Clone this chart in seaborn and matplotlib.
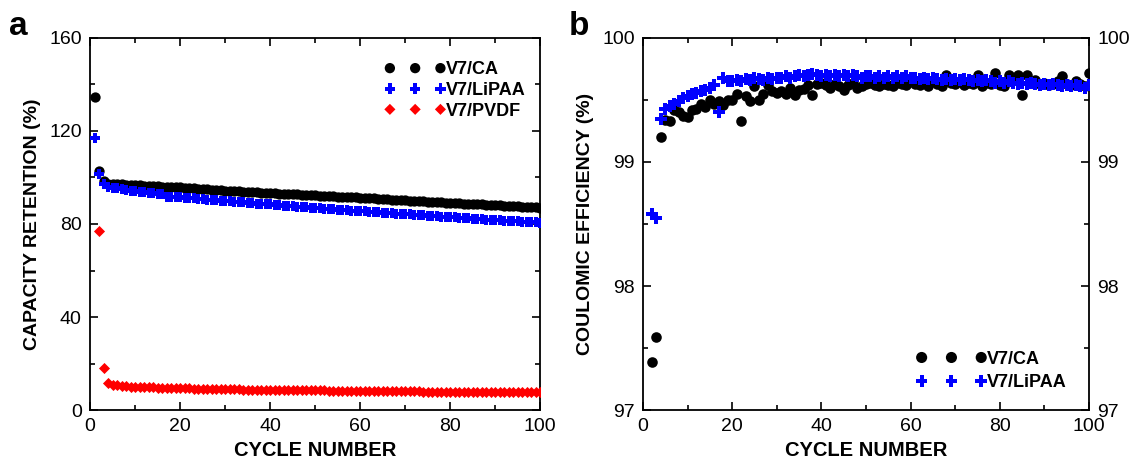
import matplotlib
matplotlib.use("Agg")
import matplotlib.pyplot as plt
from matplotlib.ticker import MultipleLocator
import seaborn as sns
import pandas as pd

# ---------------- data ----------------
cycles_all = list(range(1, 101))
cycles_from2 = list(range(2, 101))

retention_ca = [
    134.5, 103.0, 98.3, 97.4, 97.2, 97.1, 97.0, 96.9, 96.8, 96.7,
    96.6, 96.5, 96.4, 96.3, 96.2, 96.1, 96.0, 95.9, 95.8, 95.7,
    95.5, 95.4, 95.3, 95.2, 95.0, 94.9, 94.8, 94.6, 94.5, 94.4,
    94.2, 94.1, 94.0, 93.9, 93.8, 93.7, 93.6, 93.5, 93.4, 93.3,
    93.2, 93.1, 93.0, 92.9, 92.8, 92.7, 92.6, 92.5, 92.4, 92.3,
    92.2, 92.1, 92.0, 91.9, 91.8, 91.7, 91.6, 91.5, 91.4, 91.3,
    91.2, 91.1, 91.0, 90.8, 90.7, 90.6, 90.5, 90.4, 90.3, 90.2,
    90.0, 89.9, 89.8, 89.7, 89.6, 89.5, 89.4, 89.3, 89.2, 89.1,
    89.0, 88.9, 88.8, 88.7, 88.6, 88.5, 88.4, 88.3, 88.2, 88.1,
    88.0, 87.9, 87.8, 87.7, 87.6, 87.5, 87.4, 87.3, 87.2, 87.0,
]
retention_lipaa = [
    117.2, 101.5, 97.2, 96.0, 95.6, 95.3, 95.0, 94.7, 94.4, 94.1,
    93.9, 93.7, 93.5, 93.3, 93.1, 93.0, 91.8, 91.7, 91.6, 91.5,
    91.3, 91.2, 91.0, 90.8, 90.7, 90.5, 90.4, 90.2, 90.0, 89.9,
    89.7, 89.6, 89.4, 89.3, 89.1, 89.0, 88.8, 88.7, 88.5, 88.4,
    88.2, 88.1, 87.9, 87.8, 87.6, 87.5, 87.3, 87.2, 87.0, 86.9,
    86.8, 86.6, 86.5, 86.4, 86.2, 86.1, 86.0, 85.8, 85.7, 85.6,
    85.4, 85.3, 85.2, 85.0, 84.9, 84.8, 84.6, 84.5, 84.4, 84.2,
    84.1, 84.0, 83.8, 83.7, 83.6, 83.4, 83.3, 83.2, 83.0, 82.9,
    82.8, 82.7, 82.5, 82.4, 82.3, 82.2, 82.0, 81.9, 81.8, 81.7,
    81.6, 81.4, 81.3, 81.2, 81.1, 81.0, 80.9, 80.8, 80.7, 80.6,
]
retention_pvdf = [  # cycles 2..100
    77.0, 18.0, 11.8, 10.9, 10.6, 10.4, 10.3, 10.1, 10.0,
    9.9, 9.8, 9.8, 9.7, 9.6, 9.6, 9.5, 9.5, 9.4, 9.4,
    9.3, 9.3, 9.2, 9.2, 9.2, 9.1, 9.1, 9.0, 9.0, 9.0,
    8.9, 8.9, 8.9, 8.8, 8.8, 8.8, 8.7, 8.7, 8.7, 8.6,
    8.6, 8.6, 8.6, 8.5, 8.5, 8.5, 8.5, 8.4, 8.4, 8.4,
    8.4, 8.4, 8.3, 8.3, 8.3, 8.3, 8.3, 8.2, 8.2, 8.2,
    8.2, 8.2, 8.1, 8.1, 8.1, 8.1, 8.1, 8.0, 8.0, 8.0,
    8.0, 8.0, 8.0, 7.9, 7.9, 7.9, 7.9, 7.9, 7.9, 7.8,
    7.8, 7.8, 7.8, 7.8, 7.8, 7.8, 7.7, 7.7, 7.7, 7.7,
    7.7, 7.7, 7.7, 7.7, 7.6, 7.6, 7.6, 7.6, 7.6, 7.6,
]

ce_ca = [  # cycles 2..100
    97.39, 97.59, 99.20, 99.34, 99.33, 99.42, 99.40, 99.37, 99.36,
    99.42, 99.43, 99.47, 99.44, 99.50, 99.47, 99.49, 99.46, 99.50, 99.50,
    99.55, 99.33, 99.53, 99.49, 99.61, 99.50, 99.55, 99.62, 99.57, 99.56,
    99.57, 99.55, 99.60, 99.54, 99.58, 99.59, 99.62, 99.54, 99.63, 99.64,
    99.62, 99.60, 99.63, 99.61, 99.58, 99.62, 99.64, 99.60, 99.61, 99.63,
    99.64, 99.62, 99.61, 99.63, 99.62, 99.61, 99.64, 99.63, 99.62, 99.65,
    99.63, 99.62, 99.64, 99.61, 99.65, 99.63, 99.61, 99.70, 99.64, 99.63,
    99.65, 99.62, 99.64, 99.63, 99.70, 99.61, 99.64, 99.63, 99.72, 99.62,
    99.61, 99.70, 99.66, 99.70, 99.54, 99.70, 99.64, 99.66, 99.63, 99.64,
    99.62, 99.63, 99.65, 99.69, 99.63, 99.62, 99.65, 99.63, 99.61, 99.72,
]
ce_lipaa = [  # cycles 2..100
    98.58, 98.55, 99.35, 99.43, 99.45, 99.47, 99.49, 99.52, 99.53,
    99.55, 99.56, 99.57, 99.58, 99.60, 99.62, 99.40, 99.68, 99.65, 99.65,
    99.66, 99.65, 99.67, 99.66, 99.68, 99.67, 99.66, 99.68, 99.67, 99.68,
    99.68, 99.69, 99.68, 99.69, 99.70, 99.69, 99.70, 99.71, 99.70, 99.69,
    99.70, 99.69, 99.70, 99.69, 99.70, 99.69, 99.70, 99.69, 99.68, 99.69,
    99.69, 99.68, 99.69, 99.68, 99.69, 99.68, 99.69, 99.68, 99.69, 99.68,
    99.68, 99.67, 99.68, 99.67, 99.68, 99.67, 99.66, 99.67, 99.66, 99.67,
    99.66, 99.67, 99.66, 99.65, 99.66, 99.65, 99.66, 99.65, 99.64, 99.65,
    99.64, 99.65, 99.64, 99.63, 99.64, 99.63, 99.64, 99.63, 99.62, 99.63,
    99.62, 99.63, 99.62, 99.61, 99.62, 99.61, 99.62, 99.61, 99.60, 99.62,
]

# ---------------- style ----------------
sns.set_style("ticks")
plt.rcParams["font.family"] = ["Liberation Sans", "DejaVu Sans"]
for key in ("text.color", "axes.labelcolor", "xtick.color", "ytick.color", "axes.edgecolor"):
    plt.rcParams[key] = "black"
plt.rcParams["axes.linewidth"] = 1.3

BLACK, BLUE, RED = "#000000", "#0000FF", "#FF0000"

fig = plt.figure(figsize=(11.37, 4.61), dpi=100)
ax1 = fig.add_axes([0.0792, 0.1106, 0.3958, 0.807])
ax2 = fig.add_axes([0.5655, 0.1106, 0.3923, 0.807])

# ---------------- panel a ----------------
df_a_ca = pd.DataFrame({"cycle": cycles_all, "val": retention_ca})
df_a_li = pd.DataFrame({"cycle": cycles_all, "val": retention_lipaa})
df_a_pv = pd.DataFrame({"cycle": cycles_from2, "val": retention_pvdf})

sns.scatterplot(data=df_a_ca, x="cycle", y="val", ax=ax1, color=BLACK, marker="o",
                s=55, linewidth=0, label="V7/CA", zorder=3)
sns.scatterplot(data=df_a_li, x="cycle", y="val", ax=ax1, color=BLUE, marker="P",
                s=58, linewidth=0, label="V7/LiPAA", zorder=4)
sns.scatterplot(data=df_a_pv, x="cycle", y="val", ax=ax1, color=RED, marker="D",
                s=32, linewidth=0, label="V7/PVDF", zorder=4)

ax1.set_xlim(0, 100)
ax1.set_ylim(0, 160)
ax1.xaxis.set_major_locator(MultipleLocator(20))
ax1.xaxis.set_minor_locator(MultipleLocator(10))
ax1.yaxis.set_major_locator(MultipleLocator(40))
ax1.yaxis.set_minor_locator(MultipleLocator(20))
ax1.set_xlabel("CYCLE NUMBER", fontsize=14.5, fontweight="bold", labelpad=4)
ax1.set_ylabel("CAPACITY RETENTION (%)", fontsize=14, fontweight="bold", labelpad=6)
ax1.legend(loc="upper right", bbox_to_anchor=(1.02, 1.0), scatterpoints=3,
           scatteryoffsets=[0.5], frameon=False,
           prop={"weight": "bold", "size": 13}, handlelength=3.4, handletextpad=0.0,
           markerscale=1.0, borderaxespad=1.0, labelspacing=0.2, borderpad=0.3)

# ---------------- panel b ----------------
df_b_ca = pd.DataFrame({"cycle": cycles_from2, "val": ce_ca})
df_b_li = pd.DataFrame({"cycle": cycles_from2, "val": ce_lipaa})

sns.scatterplot(data=df_b_ca, x="cycle", y="val", ax=ax2, color=BLACK, marker="o",
                s=58, linewidth=0, label="V7/CA", zorder=3)
sns.scatterplot(data=df_b_li, x="cycle", y="val", ax=ax2, color=BLUE, marker="P",
                s=64, linewidth=0, label="V7/LiPAA", zorder=4)

ax2.set_xlim(0, 100)
ax2.set_ylim(97, 100)
ax2.xaxis.set_major_locator(MultipleLocator(20))
ax2.xaxis.set_minor_locator(MultipleLocator(10))
ax2.yaxis.set_major_locator(MultipleLocator(1))
ax2.yaxis.set_minor_locator(MultipleLocator(0.5))
ax2.set_xlabel("CYCLE NUMBER", fontsize=14.5, fontweight="bold", labelpad=4)
ax2.set_ylabel("COULOMIC EFFICIENCY (%)", fontsize=14, fontweight="bold", labelpad=6)
ax2.legend(loc="lower right", bbox_to_anchor=(1.01, -0.022), scatterpoints=3,
           scatteryoffsets=[0.5], frameon=False,
           prop={"weight": "bold", "size": 13}, handlelength=3.9, handletextpad=0.0,
           markerscale=1.05, borderaxespad=1.2, labelspacing=0.35, borderpad=0.3)

for ax in (ax1, ax2):
    for sp in ax.spines.values():
        sp.set_visible(True)
        sp.set_linewidth(1.3)
        sp.set_color("black")
    ax.tick_params(which="both", direction="in", top=True, right=True, width=1.2,
                   labelsize=14, pad=6, colors="black")
    ax.tick_params(which="major", length=6)
    ax.tick_params(which="minor", length=3.5)

ax2.tick_params(axis="y", which="both", labelright=True)

fig.text(0.008, 0.925, "a", fontsize=24, fontweight="bold")
fig.text(0.500, 0.925, "b", fontsize=24, fontweight="bold")

fig.savefig("out.png", dpi=100)
